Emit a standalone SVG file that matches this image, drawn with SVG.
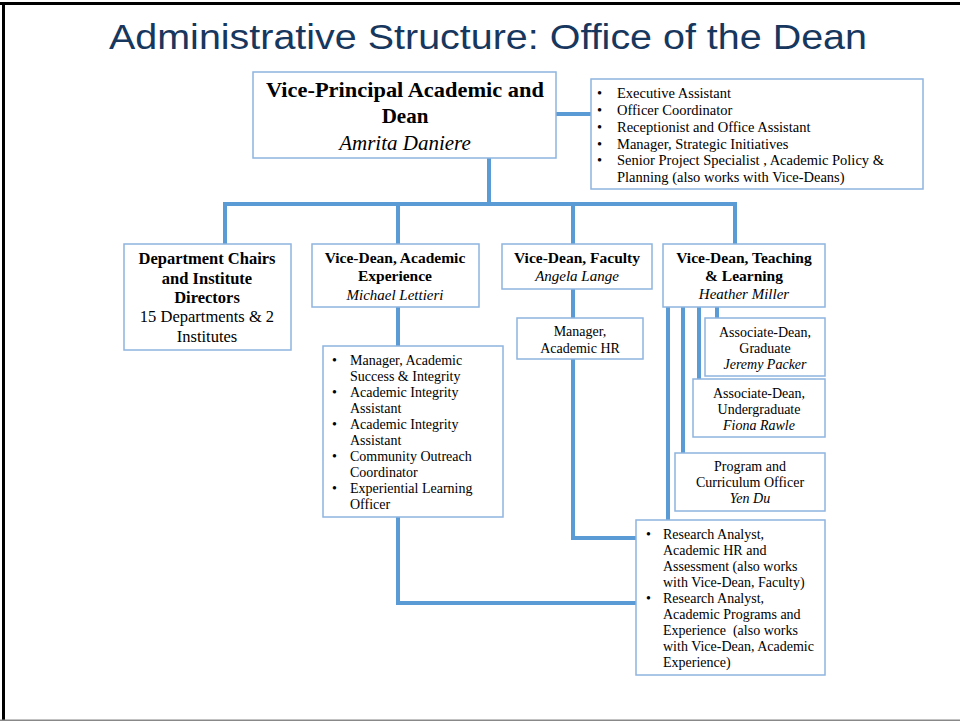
<svg xmlns="http://www.w3.org/2000/svg" width="960" height="721" viewBox="0 0 960 721">
<style>
.box{fill:#fff;stroke:#8FB4E0;stroke-width:1.5}
.c{fill:none;stroke:#5B9BD5;stroke-width:4;stroke-linejoin:miter}
.t{font-family:"Liberation Serif","Times New Roman",serif;fill:#000}
.b{font-weight:bold}
.i{font-style:italic}
.m{text-anchor:middle}
.s{font-size:14px}
</style>
<rect x="0" y="0" width="960" height="721" fill="#fff"/>
<rect x="0" y="2" width="960" height="3" fill="#000"/>
<rect x="2" y="2" width="3" height="718" fill="#000"/>
<rect x="0" y="719.5" width="960" height="1.5" fill="#888"/>
<text x="488" y="49" font-family="Liberation Sans,Arial,sans-serif" font-size="35" fill="#17375E" text-anchor="middle" textLength="758" lengthAdjust="spacingAndGlyphs">Administrative Structure: Office of the Dean</text>

<g id="connectors">
<path class="c" d="M556 114 H591"/>
<path class="c" d="M489 158 V204"/>
<path class="c" d="M225 244 V204 H735 V244"/>
<path class="c" d="M398 204 V244"/>
<path class="c" d="M573 204 V244"/>
<path class="c" d="M573 289 V318"/>
<path class="c" d="M398 307 V346"/>
<path class="c" d="M398 517 V603 H636"/>
<path class="c" d="M573 359 V538 H636"/>
<path class="c" d="M668 307 V520"/>
<path class="c" d="M683 307 V453"/>
<path class="c" d="M699 307 V379"/>
<path class="c" d="M717 307 V318"/>
</g>

<g id="vp">
<rect class="box" x="253" y="72" width="303" height="86"/>
<text class="t b m" x="405" y="97" font-size="21" textLength="278" lengthAdjust="spacingAndGlyphs">Vice-Principal Academic and</text>
<text class="t b m" x="405" y="123" font-size="21">Dean</text>
<text class="t i m" x="405" y="150" font-size="21">Amrita Daniere</text>
</g>

<g id="office-staff">
<rect class="box" x="591" y="79" width="332" height="110"/>
<g class="t" font-size="14.5">
<text x="597" y="98">•</text><text x="617" y="98">Executive Assistant</text>
<text x="597" y="115">•</text><text x="617" y="115">Officer Coordinator</text>
<text x="597" y="132">•</text><text x="617" y="132">Receptionist and Office Assistant</text>
<text x="597" y="149">•</text><text x="617" y="149">Manager, Strategic Initiatives</text>
<text x="597" y="165">•</text><text x="617" y="165">Senior Project Specialist , Academic Policy &amp;</text>
<text x="617" y="182">Planning (also works with Vice-Deans)</text>
</g>
</g>

<g id="dept-chairs">
<rect class="box" x="124" y="244" width="167" height="106"/>
<text class="t b m" x="207" y="264" font-size="16.5">Department Chairs</text>
<text class="t b m" x="207" y="284" font-size="16.5">and Institute</text>
<text class="t b m" x="207" y="303" font-size="16.5">Directors</text>
<text class="t m" x="207" y="322" font-size="16.5">15 Departments &amp; 2</text>
<text class="t m" x="207" y="342" font-size="16.5">Institutes</text>
</g>

<g id="vd-academic">
<rect class="box" x="312" y="244" width="167" height="63"/>
<text class="t b m" x="395" y="263" font-size="15.5">Vice-Dean, Academic</text>
<text class="t b m" x="395" y="281" font-size="15.5">Experience</text>
<text class="t i m" x="395" y="300" font-size="15">Michael Lettieri</text>
</g>

<g id="vd-faculty">
<rect class="box" x="502" y="244" width="150" height="45"/>
<text class="t b m" x="577" y="263" font-size="15.5">Vice-Dean, Faculty</text>
<text class="t i m" x="577" y="281" font-size="15">Angela Lange</text>
</g>

<g id="vd-teaching">
<rect class="box" x="663" y="244" width="162" height="63"/>
<text class="t b m" x="744" y="263" font-size="15.5">Vice-Dean, Teaching</text>
<text class="t b m" x="744" y="281" font-size="15.5">&amp; Learning</text>
<text class="t i m" x="744" y="299" font-size="15">Heather Miller</text>
</g>

<g id="manager-hr">
<rect class="box" x="517" y="318" width="126" height="41"/>
<text class="t m s" x="580" y="336">Manager,</text>
<text class="t m s" x="580" y="353">Academic HR</text>
</g>

<g id="academic-staff">
<rect class="box" x="323" y="346" width="180" height="171"/>
<g class="t s">
<text x="332" y="365">•</text><text x="350" y="365">Manager, Academic</text>
<text x="350" y="381">Success &amp; Integrity</text>
<text x="332" y="397">•</text><text x="350" y="397">Academic Integrity</text>
<text x="350" y="413">Assistant</text>
<text x="332" y="429">•</text><text x="350" y="429">Academic Integrity</text>
<text x="350" y="445">Assistant</text>
<text x="332" y="461">•</text><text x="350" y="461">Community Outreach</text>
<text x="350" y="477">Coordinator</text>
<text x="332" y="493">•</text><text x="350" y="493">Experiential Learning</text>
<text x="350" y="509">Officer</text>
</g>
</g>

<g id="ad-graduate">
<rect class="box" x="705" y="318" width="120" height="58"/>
<text class="t m s" x="765" y="337">Associate-Dean,</text>
<text class="t m s" x="765" y="353">Graduate</text>
<text class="t i m s" x="765" y="369">Jeremy Packer</text>
</g>

<g id="ad-undergraduate">
<rect class="box" x="693" y="379" width="132" height="58"/>
<text class="t m s" x="759" y="398">Associate-Dean,</text>
<text class="t m s" x="759" y="414">Undergraduate</text>
<text class="t i m s" x="759" y="430">Fiona Rawle</text>
</g>

<g id="program-officer">
<rect class="box" x="675" y="453" width="150" height="58"/>
<text class="t m s" x="750" y="471">Program and</text>
<text class="t m s" x="750" y="487">Curriculum Officer</text>
<text class="t i m s" x="750" y="503">Yen Du</text>
</g>

<g id="research-analysts">
<rect class="box" x="636" y="520" width="189" height="155"/>
<g class="t s">
<text x="646" y="539">•</text><text x="663" y="539">Research Analyst,</text>
<text x="663" y="555">Academic HR and</text>
<text x="663" y="571">Assessment (also works</text>
<text x="663" y="587">with Vice-Dean, Faculty)</text>
<text x="646" y="603">•</text><text x="663" y="603">Research Analyst,</text>
<text x="663" y="619">Academic Programs and</text>
<text x="663" y="635" xml:space="preserve">Experience  (also works</text>
<text x="663" y="651">with Vice-Dean, Academic</text>
<text x="663" y="667">Experience)</text>
</g>
</g>
</svg>
